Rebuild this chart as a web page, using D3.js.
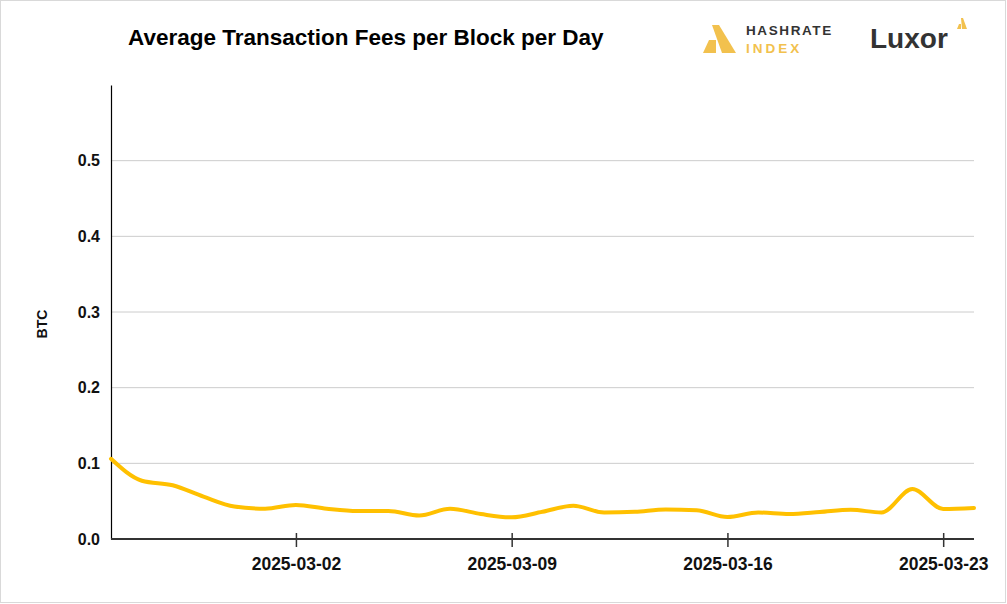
<!DOCTYPE html>
<html><head><meta charset="utf-8">
<script src="https://cdn.jsdelivr.net/npm/d3@7"></script>
<style>body{margin:0;background:#fff;}svg{display:block;font-family:Arial,"Liberation Sans",sans-serif;}</style>
</head><body>
<svg id="c" width="1007" height="604"></svg>
<script>
const startDate = "2025-02-24";
const feeValues = [0.106,0.077,0.071,0.056,0.043,0.040,0.045,0.040,0.037,0.037,0.031,0.040,0.033,0.0286,0.036,
  0.044,0.035,0.036,0.039,0.038,0.029,0.035,0.033,0.0356,0.0387,0.035,0.066,0.0396,0.041];
const yTicks = [0,0.1,0.2,0.3,0.4,0.5];
const xTickLabels = ["2025-03-02","2025-03-09","2025-03-16","2025-03-23"];

const parse = d3.utcParse("%Y-%m-%d");
const fmt = d3.utcFormat("%Y-%m-%d");
const t0 = parse(startDate);
const data = feeValues.map((v,i)=>({date:d3.utcDay.offset(t0,i), v}));

const svg = d3.select("#c");
svg.append("rect").attr("x",0.5).attr("y",0.5).attr("width",1005).attr("height",602)
  .attr("fill","#fff").attr("stroke","#d9d9d9");

const L=111,R=974,T=85,B=539;
const x = d3.scaleUtc().domain(d3.extent(data,d=>d.date)).range([L,R]);
const y = d3.scaleLinear().domain([0,0.6]).range([B,T]);

// gridlines
svg.append("g").selectAll("line").data(yTicks.filter(d=>d>0)).join("line")
  .attr("x1",L).attr("x2",R).attr("y1",d=>y(d)).attr("y2",d=>y(d))
  .attr("stroke","#cccccc").attr("stroke-width",1);

// y axis
const ya = svg.append("g").attr("transform",`translate(${L},0)`)
  .call(d3.axisLeft(y).tickValues(yTicks).tickFormat(d3.format(".1f")).tickSize(0).tickPadding(11));
ya.select(".domain").attr("stroke","#000").attr("stroke-width",1.2);
ya.selectAll("text").attr("font-size",16).attr("font-weight","bold").attr("fill","#111")
  .attr("font-family","Arial, 'Liberation Sans', sans-serif");

// x axis
const xa = svg.append("g").attr("transform",`translate(0,${B})`)
  .call(d3.axisBottom(x).tickValues(xTickLabels.map(parse)).tickFormat(fmt).tickSize(8).tickPadding(11));
xa.select(".domain").attr("stroke","#333").attr("stroke-width",2).attr("d",`M${L},0H${R}`);
xa.selectAll(".tick line").attr("stroke","#333").attr("stroke-width",1.5).attr("y1",-6);
xa.selectAll("text").attr("font-size",17.5).attr("font-weight","bold").attr("fill","#111")
  .attr("font-family","Arial, 'Liberation Sans', sans-serif");

// line
svg.append("path").datum(data)
  .attr("fill","none").attr("stroke","#FFC000").attr("stroke-width",4)
  .attr("stroke-linejoin","round").attr("stroke-linecap","round")
  .attr("d",d3.line().x(d=>x(d.date)).y(d=>y(d.v)).curve(d3.curveMonotoneX));

// y label
svg.append("text").attr("transform","translate(47,324) rotate(-90)")
  .attr("text-anchor","middle").attr("font-size",14).attr("font-weight","bold").attr("fill","#111").text("BTC");

// title
svg.append("text").attr("x",128).attr("y",45).attr("font-size",22.5).attr("font-weight","bold")
  .attr("fill","#000").text("Average Transaction Fees per Block per Day");

// Hashrate Index logo
const lg = svg.append("g");
lg.append("path").attr("d","M712,25 L719,25 L736,53 L722,53 Z").attr("fill","#F2C14E");
lg.append("path").attr("d","M703,53 L709,40 L716,40 L716,53 Z").attr("fill","#F2C14E");
lg.append("text").attr("x",746).attr("y",35).attr("font-size",13.5).attr("font-weight","bold")
  .attr("letter-spacing",1.6).attr("fill","#333").text("HASHRATE");
lg.append("text").attr("x",746).attr("y",53).attr("font-size",13.5).attr("font-weight","bold")
  .attr("letter-spacing",3).attr("fill","#F2C14E").text("INDEX");
// Luxor logo
lg.append("text").attr("x",870).attr("y",48).attr("font-size",28).attr("font-weight","bold")
  .attr("fill","#333").attr("font-family","Arial, 'Liberation Sans', sans-serif").text("Luxor");
lg.append("path").attr("d","M961,18 L963,18 L967,29 L962,29 Z").attr("fill","#F2C14E");
lg.append("path").attr("d","M957,29 L959,24 L961,24 L961,29 Z").attr("fill","#F2C14E");
</script>
</body></html>
